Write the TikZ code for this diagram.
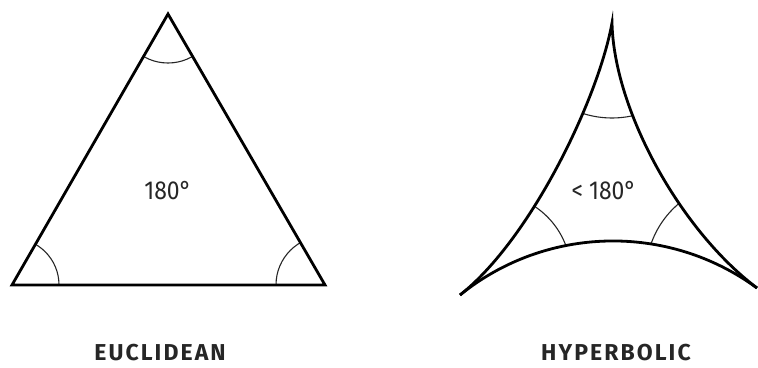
\documentclass[tikz,border=0pt]{standalone}
\usepackage{fontspec}
\setmainfont{Fira Sans}
\newfontfamily\sumfont{Fira Sans}[FakeStretch=0.88]
\newfontfamily\namefont{Fira Sans}[LetterSpace=9]
\usetikzlibrary{positioning}
\tikzset{
  side/.style={line width=2.8pt, draw=black},
  anglemark/.style={line width=1.1pt, draw=black!85},
  sumlabel/.style={font=\sumfont\fontsize{26}{30}\selectfont, text=black!85},
  geolabel/.style={font=\namefont\bfseries\fontsize{23}{26}\selectfont, text=black!85, inner sep=1pt},
}
\begin{document}
\begin{tikzpicture}[x=1pt, y=-1pt]
  \useasboundingbox (0,0) rectangle (758,367);
  % euclidean triangle
  \coordinate (eA) at (168,14);
  \coordinate (eB) at (12,285);
  \coordinate (eC) at (325,285);
  \begin{scope}
    \clip (eA) -- (eB) -- (eC) -- cycle;
    \draw[anglemark] (eA) circle[radius=49];
    \draw[anglemark] (eB) circle[radius=47];
    \draw[anglemark] (eC) circle[radius=49];
  \end{scope}
  \draw[side] (eA) -- (eB) -- (eC) -- cycle;
  \node[sumlabel] (esum) at (168,191) {180°};
  \node[geolabel] (ename) at (160,353) {EUCLIDEAN};
  % hyperbolic triangle
  \coordinate (hA) at (612,23);
  \coordinate (hB) at (490,274);
  \coordinate (hC) at (738,274);
  \coordinate (hL) at (460,295);
  \coordinate (hR) at (757,288);
  \begin{scope}
    \clip (hL) .. controls (530,240) and (598,100) .. (hA)
      .. controls (614,110) and (680,230) .. (hR)
      arc[start angle=-53.8, end angle=-128.9, radius=243.7] -- cycle;
    \draw[anglemark] (hA) circle[radius=95];
    \draw[anglemark] (hB) circle[radius=81];
    \draw[anglemark] (hC) circle[radius=92];
  \end{scope}
  \draw[side] (hL) .. controls (530,240) and (598,100) .. (hA)
    .. controls (614,110) and (680,230) .. (hR);
  \draw[side] (hL) arc[start angle=-128.9, end angle=-53.8, radius=243.7];
  \node[sumlabel] (hsum) at (604,191) {< 180°};
  \node[geolabel] (hname) at (616,353) {HYPERBOLIC};
\end{tikzpicture}
\end{document}
